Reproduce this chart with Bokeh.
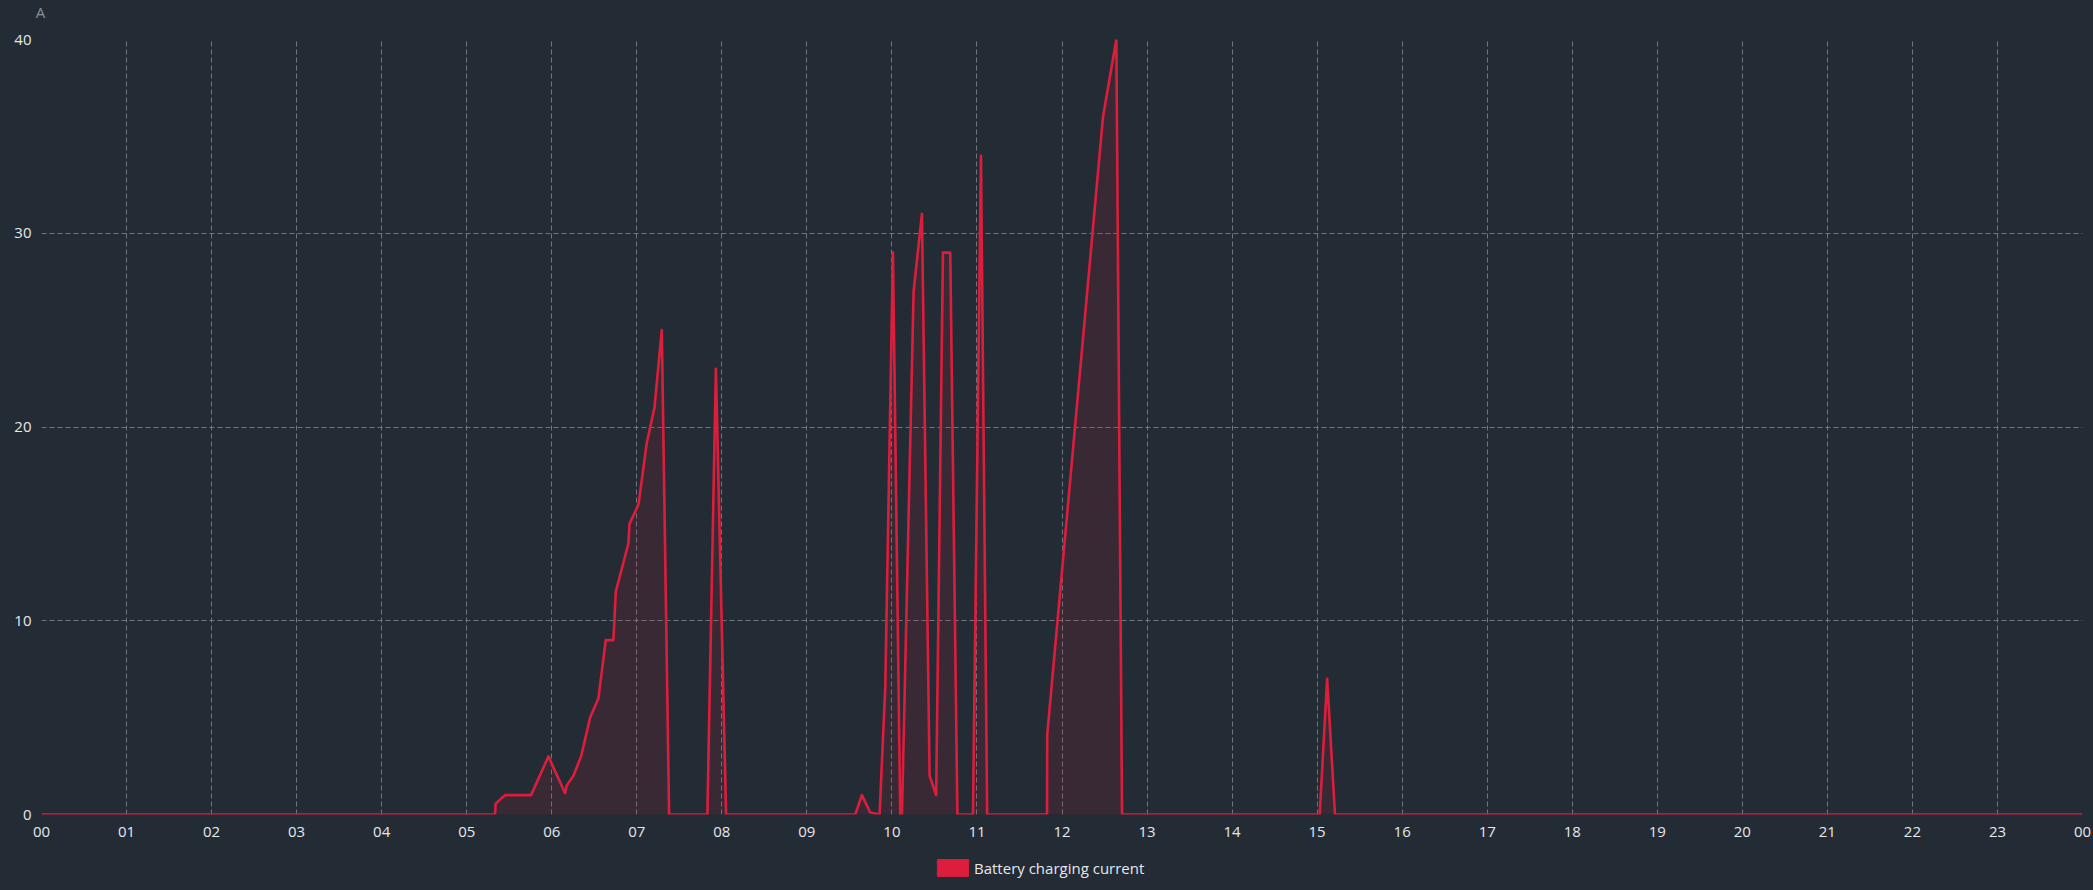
from bokeh.plotting import figure
from bokeh.layouts import column
from bokeh.models import (ColumnDataSource, FixedTicker, Range1d, Legend,
                          LegendItem, Label)
from bokeh.embed import file_html
from bokeh.resources import INLINE

# ---------------- data ----------------
series_name = "Battery charging current"
unit_label = "A"

hours = [0.0, 5.333, 5.34, 5.451, 5.757, 5.961, 6.157, 6.176, 6.255, 6.345,
         6.451, 6.549, 6.635, 6.725, 6.753, 6.902, 6.914, 7.020, 7.118, 7.208,
         7.294, 7.380, 7.830, 7.930, 8.050, 9.569, 9.647, 9.745, 9.855, 9.922,
         10.012, 10.098, 10.118, 10.255, 10.353, 10.443, 10.520, 10.600, 10.686,
         10.770, 10.953, 11.047, 11.120, 11.824, 11.826, 12.482, 12.639, 12.706,
         15.030, 15.118, 15.210, 24.0]
current = [0, 0, 0.56, 1.0, 1.0, 3.0, 1.1, 1.5, 2.0, 3.0,
           5.0, 6.0, 9.0, 9.0, 11.5, 14.0, 15.0, 16.0, 19.2, 21.0,
           25.0, 0, 0, 23.0, 0, 0, 1.0, 0.1, 0, 6.6,
           29.0, 0, 0, 27.0, 31.0, 2.0, 1.0, 29.0, 29.0,
           0, 0, 34.0, 0, 0, 4.1, 36.0, 40.0, 0,
           0, 7.0, 0, 0]

x_ticks = list(range(25))
x_tick_labels = ["%02d" % (h % 24) for h in x_ticks]
y_ticks = [0, 10, 20, 30, 40]

# ---------------- style ----------------
BG = "#232b35"
RED = "#dc1e3c"
GRID = "#767d87"
TXT = "#e6e8ea"
FONT = "Open Sans"
W = 2093


def strip(height, xr, yr):
    f = figure(width=W, height=height, output_backend="svg",
               toolbar_location=None, x_range=xr, y_range=yr,
               x_axis_location=None, y_axis_location=None,
               background_fill_color=BG, border_fill_color=BG,
               outline_line_color=None, min_border=0)
    f.grid.visible = False
    return f


# ---------------- unit strip (top) ----------------
top = strip(25, Range1d(0, W), Range1d(0, 25))
top.frame_align = False
top.add_layout(Label(x=40, y=14, text=unit_label,
                     text_align="center", text_baseline="middle",
                     text_color="#8b9199", text_font=FONT,
                     text_font_size="15px"))

# ---------------- main chart ----------------
p = figure(width=W, height=825, output_backend="svg", toolbar_location=None,
           x_range=Range1d(0, 24), y_range=Range1d(0, 40),
           background_fill_color=BG, border_fill_color=BG,
           outline_line_color=None,
           min_border_left=41, min_border_right=11,
           min_border_top=14, min_border_bottom=36)

src = ColumnDataSource(dict(x=hours, y=current))
p.varea(x="x", y1=0, y2="y", source=src, fill_color=RED, fill_alpha=0.12)
p.line("x", "y", source=src, line_color=RED, line_width=2.6,
       line_join="round")

xa = p.xaxis[0]
xa.ticker = FixedTicker(ticks=x_ticks)
xa.major_label_overrides = {t: l for t, l in zip(x_ticks, x_tick_labels)}
ya = p.yaxis[0]
ya.ticker = FixedTicker(ticks=y_ticks)
for ax in (xa, ya):
    ax.axis_line_color = None
    ax.major_tick_line_color = None
    ax.minor_tick_line_color = None
    ax.major_tick_out = 0
    ax.major_tick_in = 0
    ax.major_label_text_color = TXT
    ax.major_label_text_font = FONT
    ax.major_label_text_font_size = "15px"
xa.major_label_standoff = 12
ya.major_label_standoff = 10

p.xgrid.ticker = FixedTicker(ticks=x_ticks)
p.ygrid.ticker = FixedTicker(ticks=y_ticks)
for g in (p.xgrid[0], p.ygrid[0]):
    g.grid_line_color = GRID
    g.grid_line_dash = "5 3"
    g.grid_line_width = 1
    g.grid_line_alpha = 0.9

# ---------------- legend strip (bottom) ----------------
lg = strip(40, Range1d(0, 1), Range1d(0, 1))
# swatch renderer placed outside the visible range (only used by legend)
swatch = lg.rect(x=[-5], y=[-5], width=1, height=1, fill_color=RED,
                 line_color=RED, line_width=1)
legend = Legend(items=[LegendItem(label=series_name, renderers=[swatch])],
                location=(892, 12), orientation="horizontal",
                background_fill_alpha=0, border_line_color=None,
                label_text_color=TXT, label_text_font=FONT,
                label_text_font_size="15px", glyph_width=39, glyph_height=21,
                label_standoff=2, padding=0, margin=0, spacing=0)
lg.add_layout(legend, "center")

layout = column(top, p, lg, spacing=0, styles={"background-color": BG})
open("out.html", "w").write(file_html(layout, INLINE))
